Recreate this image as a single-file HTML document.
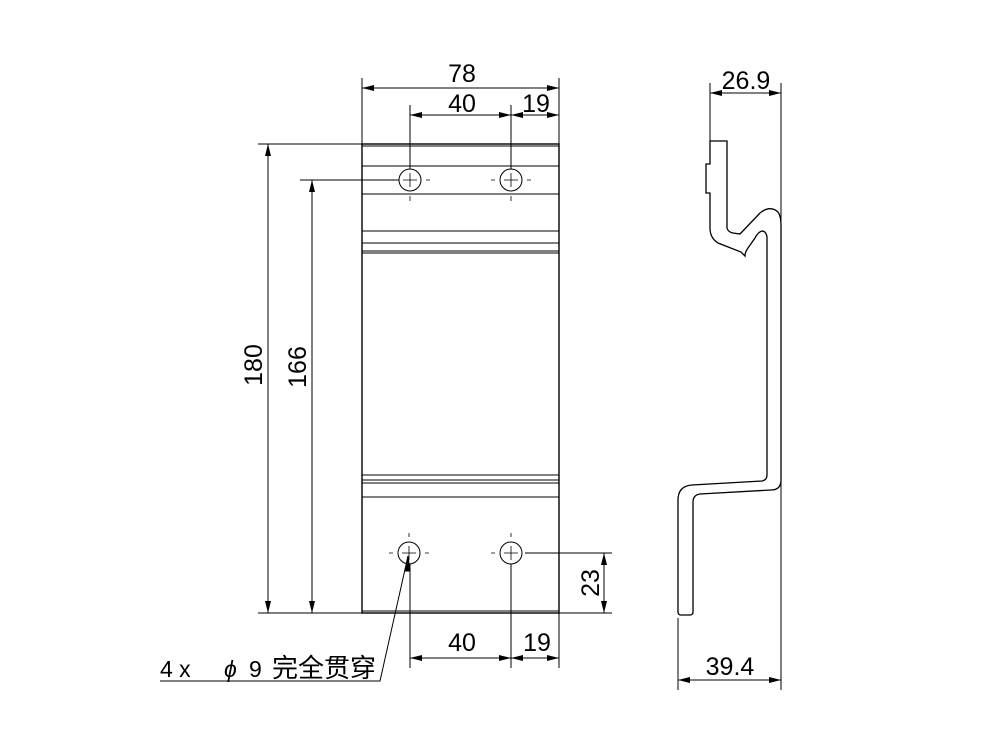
<!DOCTYPE html>
<html><head><meta charset="utf-8"><style>
html,body{margin:0;padding:0;background:#fff}
svg{display:block}
text{font-family:"Liberation Sans","Noto Sans CJK SC",sans-serif;fill:#000}
</style></head><body>
<svg width="1000" height="750" viewBox="0 0 1000 750" xmlns="http://www.w3.org/2000/svg">
<defs>
<marker id="a" viewBox="0 0 12 6" refX="12" refY="3" markerWidth="12" markerHeight="6" orient="auto-start-reverse" markerUnits="userSpaceOnUse">
<path d="M0,0 L12,3 L0,6 Z" fill="#000"/></marker>
</defs>
<g stroke="#000" fill="none" stroke-width="1">
<rect x="362" y="144" width="197" height="469" stroke-width="1.4"/>
<line x1="362" y1="146" x2="559" y2="146"/>
<line x1="362" y1="166" x2="559" y2="166"/>
<line x1="362" y1="194" x2="559" y2="194"/>
<line x1="362" y1="231" x2="559" y2="231"/>
<line x1="362" y1="243" x2="559" y2="243"/>
<line x1="362" y1="251" x2="559" y2="251"/>
<line x1="362" y1="253" x2="559" y2="253"/>
<line x1="362" y1="475" x2="559" y2="475"/>
<line x1="362" y1="480" x2="559" y2="480"/>
<line x1="362" y1="483" x2="559" y2="483"/>
<line x1="362" y1="497" x2="559" y2="497"/>
<line x1="362" y1="611" x2="559" y2="611"/>
<circle cx="410" cy="180" r="11"/><circle cx="511" cy="180" r="11"/>
<circle cx="409" cy="553" r="11"/><circle cx="511" cy="553" r="11"/>
<path d="M403,180h14M410,173v14M504,180h14M511,173v14M402,553h14M409,546v14M504,553h14M511,546v14" stroke-width="0.8"/>
<path d="M394,180h-4M426,180h4M410,196v5M495,180h-4M527,180h4M511,196v5M393,553h-4M425,553h4M409,537v-4M495,553h-4M511,537v-4" stroke-width="0.8"/>
<line x1="362" y1="78" x2="362" y2="144"/>
<line x1="559" y1="78" x2="559" y2="144"/>
<line x1="362" y1="88" x2="559" y2="88" marker-start="url(#a)" marker-end="url(#a)"/>
<line x1="410" y1="105" x2="410" y2="169"/>
<line x1="511" y1="105" x2="511" y2="169"/>
<line x1="410" y1="115" x2="511" y2="115" marker-start="url(#a)" marker-end="url(#a)"/>
<line x1="511" y1="115" x2="559" y2="115" marker-start="url(#a)" marker-end="url(#a)"/>
<line x1="258" y1="144" x2="362" y2="144"/>
<line x1="258" y1="613" x2="612" y2="613"/>
<line x1="268" y1="144" x2="268" y2="613" marker-start="url(#a)" marker-end="url(#a)"/>
<line x1="300" y1="180" x2="399" y2="180"/>
<line x1="312" y1="180" x2="312" y2="613" marker-start="url(#a)" marker-end="url(#a)"/>
<line x1="525" y1="553" x2="612" y2="553"/>
<line x1="604" y1="553" x2="604" y2="613" marker-start="url(#a)" marker-end="url(#a)"/>
<line x1="410" y1="564" x2="410" y2="668"/>
<line x1="511" y1="564" x2="511" y2="668"/>
<line x1="559" y1="613" x2="559" y2="668"/>
<line x1="410" y1="658" x2="511" y2="658" marker-start="url(#a)" marker-end="url(#a)"/>
<line x1="511" y1="658" x2="559" y2="658" marker-start="url(#a)" marker-end="url(#a)"/>
<polyline points="160,681 380,681 408,556" />
<path d="M408,556 L405,571 L410,571 Z" fill="#000"/>
<path stroke-width="1.3" d="M710,141 L727,141 L727,228 Q728,232 733,233 L740,234 L760,213 Q770,205 778,212 Q781,216 781,225 L781,480 Q781,490 771,490 L700,494 Q693,495 693,502 L693,612 Q693,615 690,615 L681,615 Q678,615 678,612 L678,500 Q678,486 692,485 L762,481 Q767,480 767,475 L767,237 Q766,231 762,231 Q758,232 755,238 L748,248 Q745,252 745,256 L741,252 L718,243 Q710,238 710,228 L710,193 L706,193 L706,164 L710,164 Z"/>
<line x1="710" y1="83" x2="710" y2="141"/>
<line x1="781" y1="83" x2="781" y2="690"/>
<line x1="710" y1="93" x2="781" y2="93" marker-start="url(#a)" marker-end="url(#a)"/>
<line x1="678" y1="618" x2="678" y2="690"/>
<line x1="678" y1="680" x2="781" y2="680" marker-start="url(#a)" marker-end="url(#a)"/>
</g>
<g font-size="25">
<text x="462" y="82" text-anchor="middle">78</text>
<text x="462" y="112" text-anchor="middle">40</text>
<text x="536" y="112" text-anchor="middle">19</text>
<text x="462" y="651" text-anchor="middle">40</text>
<text x="537" y="651" text-anchor="middle">19</text>
<text x="746" y="89" text-anchor="middle">26.9</text>
<text x="730" y="675" text-anchor="middle">39.4</text>
<text transform="translate(262,365) rotate(-90)" text-anchor="middle">180</text>
<text transform="translate(306,367) rotate(-90)" text-anchor="middle">166</text>
<text transform="translate(599,583) rotate(-90)" text-anchor="middle">23</text>
</g>
<g font-size="23">
<text x="160" y="677">4 x</text>
<text x="224" y="677" font-style="italic">ϕ</text>
<text x="249" y="677">9</text>
<text x="272" y="677" font-size="26">完全贯穿</text>
</g>
</svg>
</body></html>
